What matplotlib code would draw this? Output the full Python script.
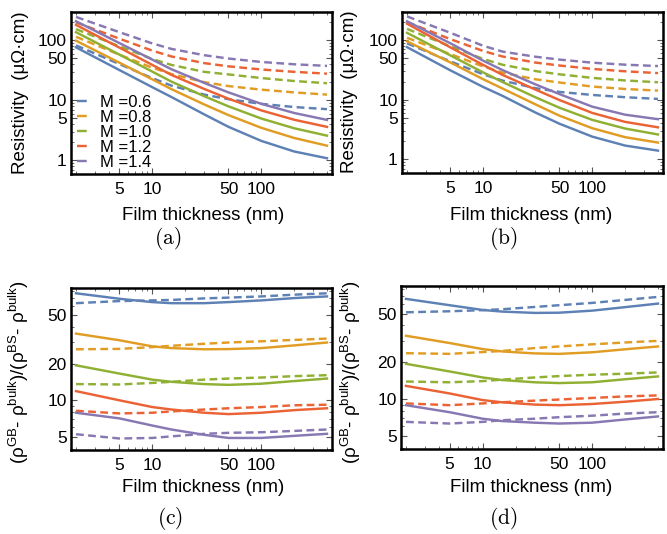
import numpy as np
import matplotlib
matplotlib.use("Agg")
import matplotlib.pyplot as plt
from matplotlib.ticker import FixedLocator, LogLocator, NullFormatter, FixedFormatter
from matplotlib.lines import Line2D

plt.rcParams['font.family'] = ['Liberation Sans', 'DejaVu Sans']
plt.rcParams['mathtext.fontset'] = 'custom'
plt.rcParams['mathtext.rm'] = 'Liberation Sans'
plt.rcParams['mathtext.it'] = 'Liberation Sans'

# ---------------- data ----------------
thickness = [2, 5, 10, 15, 30, 50, 100, 200, 400]
M_labels = ["M =0.6", "M =0.8", "M =1.0", "M =1.2", "M =1.4"]
colors = ["#5E81B5", "#E19C24", "#8FB032", "#EB6235", "#8778B3"]

# panel (a) resistivity
a_solid = [
    [76, 31.8, 16.5, 11.3, 5.8, 3.6, 2.1, 1.4, 1.08],
    [98, 42.2, 22.3, 15.3, 8.5, 5.65, 3.47, 2.35, 1.75],
    [136, 57.5, 30, 20.4, 11.65, 7.9, 4.95, 3.41, 2.57],
    [180, 75.2, 38.8, 26.4, 15.4, 10.6, 6.77, 4.73, 3.6],
    [207, 89.5, 47.5, 32.8, 19.4, 13.5, 8.7, 6.13, 4.7],
]
a_dashed = [
    [82, 40, 23.3, 17.5, 12.4, 10.4, 8.7, 7.7, 7.1],
    [114, 57.3, 34.8, 27.3, 20, 17.2, 15, 13.5, 12.4],
    [153, 79, 48.6, 38.7, 29.7, 26.9, 23.4, 20.9, 19.2],
    [198, 106, 67, 53.6, 41.5, 36.7, 32.5, 29.7, 27.7],
    [244, 136, 88.4, 71.6, 56.2, 49.5, 43.4, 39.7, 37.3],
]
# panel (b) resistivity
b_solid = [
    [76, 31, 16.3, 11.6, 6.1, 3.95, 2.4, 1.70, 1.40],
    [95, 42, 22, 15.4, 8.37, 5.39, 3.32, 2.35, 1.91],
    [132, 55.2, 28.6, 19.8, 11.0, 7.32, 4.58, 3.28, 2.61],
    [188, 75.2, 38.2, 26.1, 14.8, 9.86, 5.99, 4.24, 3.44],
    [206, 88, 45, 31.4, 18.1, 12.4, 7.63, 5.6, 4.71],
]
b_dashed = [
    [88, 43.8, 26.6, 20.9, 15.6, 13.5, 12.0, 11.0, 10.3],
    [109, 58, 36, 28.4, 22, 19.4, 16.6, 15.1, 14.2],
    [154, 78.2, 48.1, 38.5, 30.2, 26.6, 23.2, 21.0, 19.6],
    [200, 103.4, 65.4, 53, 41.9, 37.4, 32.8, 29.9, 27.9],
    [249, 132, 80, 64, 52.5, 47, 41.7, 38.6, 36.6],
]
# panel (c) ratio
c_solid = [
    [76, 68.5, 64.3, 63, 63, 64.3, 66.4, 69.4, 71.6],
    [35.4, 31.2, 27.8, 26.9, 26.3, 26.4, 26.9, 28.3, 29.9],
    [19.4, 16.6, 14.8, 14.2, 13.6, 13.4, 13.7, 14.4, 15.1],
    [11.9, 10.0, 8.8, 8.4, 7.9, 7.7, 7.9, 8.3, 8.6],
    [7.9, 7.1, 6.2, 5.75, 5.2, 4.9, 4.9, 5.1, 5.3],
]
c_dashed = [
    [63, 65.6, 66.4, 67, 69, 70, 71.6, 74, 76],
    [26.3, 26.5, 27.4, 28.1, 29.2, 29.9, 30.6, 31.4, 32.2],
    [13.6, 13.5, 13.9, 14.2, 14.8, 15.1, 15.4, 15.8, 16.1],
    [8.2, 7.8, 7.9, 8.1, 8.4, 8.6, 8.8, 9.1, 9.2],
    [5.26, 4.85, 4.9, 5.05, 5.3, 5.4, 5.46, 5.6, 5.75],
]
# panel (d) ratio
d_solid = [
    [65.9, 58.5, 53.5, 51.9, 50.6, 50.8, 52.8, 56.4, 60.3],
    [32.9, 28.7, 25.6, 24.5, 23.6, 23.4, 24.1, 25.5, 26.9],
    [19.4, 16.8, 15.0, 14.3, 13.7, 13.5, 13.7, 14.5, 15.3],
    [12.8, 11.1, 9.8, 9.4, 9.0, 8.9, 9.1, 9.5, 10.0],
    [8.9, 7.8, 6.9, 6.6, 6.4, 6.3, 6.4, 6.8, 7.2],
]
d_dashed = [
    [51.2, 52.2, 53.3, 54.2, 56.6, 58.5, 61.1, 64.6, 68.4],
    [23.7, 23.4, 24.2, 24.7, 26.1, 26.9, 28, 29, 29.9],
    [13.9, 13.7, 14.0, 14.4, 15.0, 15.4, 15.8, 16.1, 16.5],
    [9.2, 8.9, 9.2, 9.4, 9.7, 9.9, 10.2, 10.5, 10.7],
    [6.5, 6.3, 6.5, 6.7, 6.9, 7.1, 7.3, 7.6, 7.8],
]

x_ticks = [5, 10, 50, 100]
res_ticks = [1, 5, 10, 50, 100]
ratio_ticks = [5, 10, 20, 50]

# ---------------- figure ----------------
W, H = 667, 534
fig = plt.figure(figsize=(W / 100, H / 100), dpi=100)

def fbox(l, t, r, b):
    return [l / W, (H - b) / H, (r - l) / W, (b - t) / H]

dash = (0, (3.2, 1.8))
LW = 1.75

def style(ax, yticks, ylim):
    ax.set_xscale('log')
    ax.set_yscale('log')
    lo, hi = np.log10(2), np.log10(400)
    pad = 0.02 * (hi - lo)
    ax.set_xlim(10 ** (lo - pad), 10 ** (hi + pad))
    ax.set_ylim(*ylim)
    ax.xaxis.set_major_locator(FixedLocator(x_ticks))
    ax.xaxis.set_major_formatter(FixedFormatter([str(v) for v in x_ticks]))
    ax.xaxis.set_minor_locator(LogLocator(base=10, subs=np.arange(1, 10)))
    ax.xaxis.set_minor_formatter(NullFormatter())
    ax.yaxis.set_major_locator(FixedLocator(yticks))
    ax.yaxis.set_major_formatter(FixedFormatter([str(v) for v in yticks]))
    ax.yaxis.set_minor_locator(LogLocator(base=10, subs=np.arange(1, 10)))
    ax.yaxis.set_minor_formatter(NullFormatter())
    ax.tick_params(which='both', direction='in', top=True, right=True, color='#555555')
    ax.tick_params(which='major', length=4.5, width=0.8, labelsize=12.5, pad=3)
    ax.tick_params(axis='x', which='major', pad=6)
    ax.tick_params(which='minor', length=2.5, width=0.6)
    for s in ax.spines.values():
        s.set_linewidth(1.8)
        s.set_color('black')

def draw(ax, solid, dashed):
    for i in range(5):
        ax.plot(thickness, dashed[i], color=colors[i], lw=LW, ls=dash)
    for i in range(5):
        ax.plot(thickness, solid[i], color=colors[i], lw=LW)

axa = fig.add_axes(fbox(71, 12, 332, 174))
draw(axa, a_solid, a_dashed)
style(axa, res_ticks, (0.59, 295))

axb = fig.add_axes(fbox(402, 12, 663, 173))
draw(axb, b_solid, b_dashed)
style(axb, res_ticks, (0.59, 295))

axc = fig.add_axes(fbox(71, 288, 332, 450))
draw(axc, c_solid, c_dashed)
style(axc, ratio_ticks, (3.9, 84))

axd = fig.add_axes(fbox(401, 286, 663, 449))
draw(axd, d_solid, d_dashed)
style(axd, ratio_ticks, (3.9, 84))

# legend in (a)
handles = [Line2D([0], [0], color=c, lw=LW, ls=(0, (4.0, 4.0))) for c in colors]
axa.legend(handles, M_labels, loc='upper left', bbox_to_anchor=(-0.015, 0.55),
           frameon=False, fontsize=12, handlelength=0.6, handletextpad=0.8,
           labelspacing=0.0, borderaxespad=0.2)

# labels
def ft(x, y, s, **kw):
    fig.text(x / W, (H - y) / H, s, ha='center', va='center', **kw)

ylab_res = "Resistivity  (\u03bc\u03a9\u00b7cm)"
ylab_ratio = (r"(\rho$^{\mathrm{GB}}$- \rho$^{\mathrm{bulk}}$)/(\rho$^{\mathrm{BS}}$- \rho$^{\mathrm{bulk}}$)"
              .replace(r"\rho", "\u03c1"))
xlab = "Film thickness (nm)"

ft(20.5, 93, ylab_res, rotation=90, fontsize=13.5)
ft(350, 92, ylab_res, rotation=90, fontsize=13.5)
ft(19, 372, ylab_ratio, rotation=90, fontsize=13.5)
ft(351, 372, ylab_ratio, rotation=90, fontsize=13.5)

ft(203, 215, xlab, fontsize=13.5)
ft(531, 215, xlab, fontsize=13.5)
ft(203, 488, xlab, fontsize=13.5)
ft(531, 488, xlab, fontsize=13.5)

cap_kw = dict(fontsize=15.5, math_fontfamily='cm')
ft(168, 239, r"$\mathrm{(a)}$", **cap_kw)
ft(503, 239, r"$\mathrm{(b)}$", **cap_kw)
ft(170, 518, r"$\mathrm{(c)}$", **cap_kw)
ft(503, 518, r"$\mathrm{(d)}$", **cap_kw)

fig.savefig("out.png", dpi=100)
